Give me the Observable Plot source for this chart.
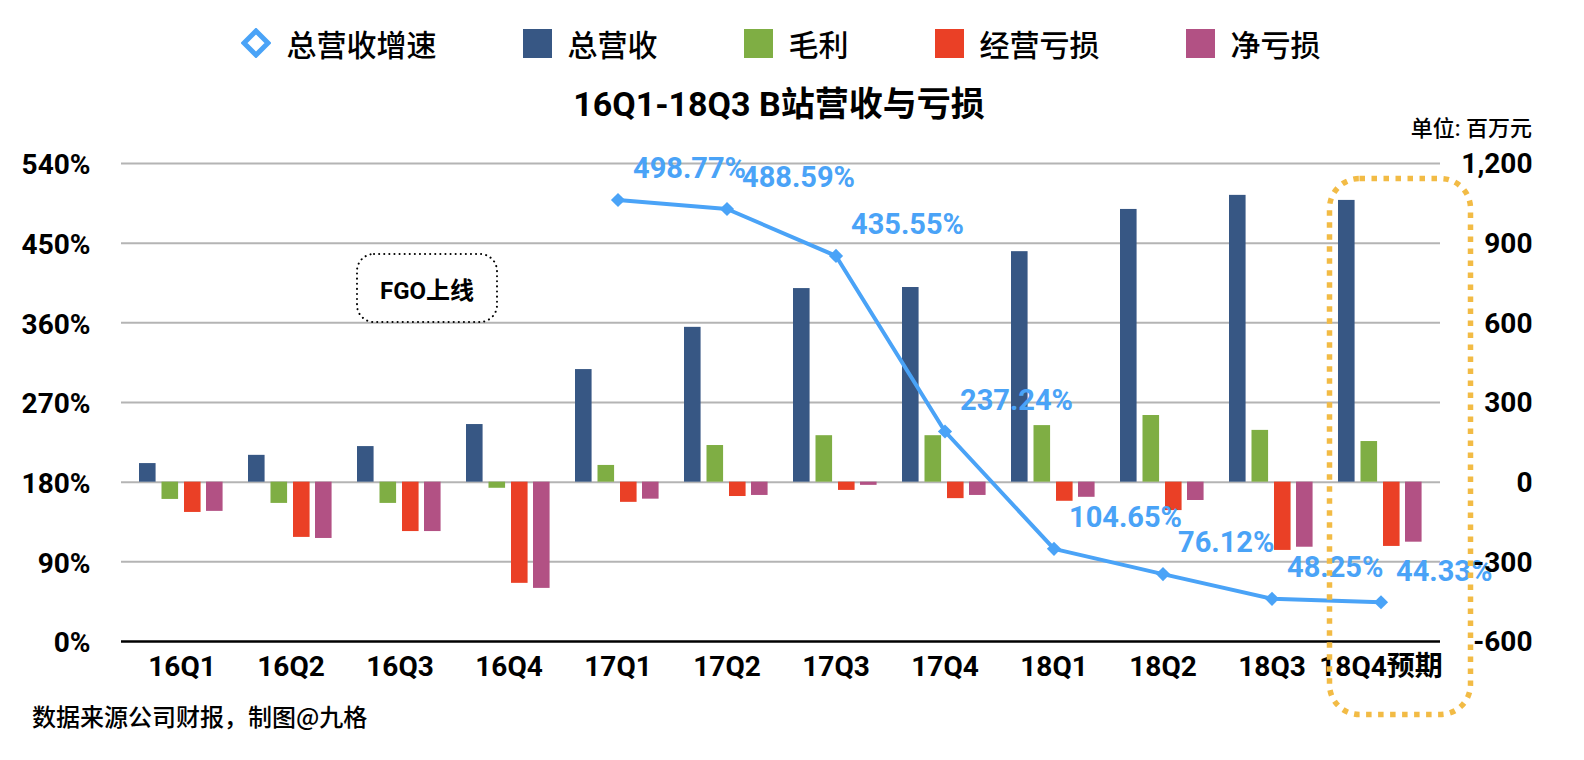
<!DOCTYPE html>
<html>
<head>
<meta charset="utf-8">
<script src="https://cdn.jsdelivr.net/npm/d3@7"></script>
<script src="https://cdn.jsdelivr.net/npm/@observablehq/plot@0.6"></script>
<style>
  html, body { margin: 0; padding: 0; background: #fff; }
  #wrap { position: relative; width: 1584px; height: 760px; overflow: hidden;
          font-family: Roboto, "Noto Sans CJK SC", sans-serif; color: #000; }
  #wrap > svg { position: absolute; left: 0; top: 0; }
  .legend { position: absolute; left: 0; top: 21px; width: 1561px; display: flex; justify-content: center;
            align-items: center; gap: 86px; font-family: "Noto Sans CJK SC", sans-serif; font-size: 30px; font-weight: 500; }
  .legend .item { display: flex; align-items: center; gap: 16px; }
  .legend .sw { width: 29px; height: 29px; display: inline-block; }
  .title { position: absolute; left: 0; width: 1558px; top: 80px; text-align: center; font-size: 34px; font-weight: 700;
           font-family: Roboto, "Noto Sans CJK SC", sans-serif; line-height: 44px; }
  .title .cjk { font-family: "Noto Sans CJK SC", sans-serif; }
  .unit { position: absolute; right: 52px; top: 113px; font-size: 22px; font-weight: 500;
          font-family: Roboto, "Noto Sans CJK SC", sans-serif; line-height: 32px; }
  .caption { position: absolute; left: 32px; top: 699px; font-size: 24px; font-weight: 500;
             font-family: "Noto Sans CJK SC", sans-serif; line-height: 34px; }
  .fgo { position: absolute; left: 356px; top: 253px; width: 142px; height: 70px; display: flex; align-items: center;
         justify-content: center; font-size: 24px; font-weight: 700;
         font-family: Roboto, "Noto Sans CJK SC", sans-serif; }
  .overlay { position: absolute; left: 0; top: 0; pointer-events: none; }
</style>
</head>
<body>
<div id="wrap"></div>
<script>
// ---- data ----
const quarters = ["16Q1","16Q2","16Q3","16Q4","17Q1","17Q2","17Q3","17Q4","18Q1","18Q2","18Q3","18Q4预期"];
const revenue       = [70, 101, 134, 217, 424, 583, 729, 733, 868, 1027, 1080, 1061];
const grossProfit   = [-65, -80, -80, -23, 63, 138, 175, 175, 213, 251, 195, 153];
const operatingLoss = [-114, -208, -186, -381, -76, -54, -31, -62, -72, -107, -257, -242];
const netLoss       = [-110, -212, -186, -400, -64, -50, -12, -50, -57, -69, -245, -226];
const revenueGrowth = [null, null, null, null, 498.77, 488.59, 435.55, 237.24, 104.65, 76.12, 48.25, 44.33];
const leftTicks  = [0, 90, 180, 270, 360, 450, 540];
const rightTicks = [-600, -300, 0, 300, 600, 900, 1200];
const seriesNames  = ["总营收增速", "总营收", "毛利", "经营亏损", "净亏损"];
const seriesColors = ["#4aa3f7", "#375784", "#7fae44", "#ea4026", "#b25184"];

// ---- layout ----
const W = 1584, H = 760, mL = 121, mR = 144, mT = 163, mB = 119;
const bw = (W - mL - mR) / quarters.length;
const barW = 17.5;
const barOffsets = [12, 34.5, 57, 79];

// left % axis mapped onto right value axis
const pMax = leftTicks[leftTicks.length - 1];
const yMin = rightTicks[0], yMax = rightTicks[rightTicks.length - 1];
const pctToY = p => yMin + p * (yMax - yMin) / pMax;

const rows = quarters.map((q, i) => ({
  q, rev: revenue[i], gp: grossProfit[i], op: operatingLoss[i], net: netLoss[i], g: revenueGrowth[i]
}));
const growthRows = rows.filter(d => d.g != null);

const barKeys = ["rev", "gp", "op", "net"];
const barMarks = barKeys.map((k, j) => Plot.barY(rows, {
  x: "q", y: k, fill: seriesColors[j + 1],
  insetLeft: barOffsets[j], insetRight: bw - barOffsets[j] - barW
}));

const numFont = "Roboto, 'Noto Sans CJK SC', sans-serif";
const fmt = v => v.toLocaleString("en-US");

const chart = Plot.plot({
  width: W, height: H,
  marginLeft: mL, marginRight: mR, marginTop: mT, marginBottom: mB,
  style: { fontFamily: numFont, background: "transparent", overflow: "visible" },
  x: { type: "band", domain: quarters, padding: 0, axis: null },
  y: { domain: [yMin, yMax], axis: null },
  marks: [
    Plot.ruleY(rightTicks.slice(1), { stroke: "#b4b4b4", strokeWidth: 2 }),
    ...barMarks,
    Plot.ruleY([yMin], { stroke: "#000", strokeWidth: 2.5 }),
    Plot.line(growthRows, { x: "q", y: d => pctToY(d.g), stroke: seriesColors[0], strokeWidth: 4 }),
    Plot.dot(growthRows, { x: "q", y: d => pctToY(d.g), symbol: "diamond2", r: 6.4, fill: seriesColors[0], stroke: "none" }),
    Plot.text(growthRows, { x: "q", y: d => pctToY(d.g), text: d => d.g.toFixed(2) + "%",
      textAnchor: "start", dx: 15, dy: -31, fill: seriesColors[0], fontSize: 29, fontWeight: "bold" }),
    Plot.text(leftTicks, { y: p => pctToY(p), text: p => p + "%", frameAnchor: "left",
      textAnchor: "end", dx: -31, dy: 2, fontSize: 28, fontWeight: "bold", fill: "#000" }),
    Plot.text(rightTicks, { y: d => d, text: d => fmt(d), frameAnchor: "right",
      textAnchor: "end", dx: 92, dy: 1, fontSize: 28, fontWeight: "bold", fill: "#000" }),
    Plot.text(quarters, { x: d => d, text: d => d, frameAnchor: "bottom", dy: 34,
      fontSize: 28, fontWeight: "bold", fill: "#000" })
  ]
});

const wrap = document.getElementById("wrap");
wrap.appendChild(chart);

// legend
const legend = document.createElement("div");
legend.className = "legend";
seriesNames.forEach((name, i) => {
  const item = document.createElement("div");
  item.className = "item";
  if (i === 0) {
    item.innerHTML = `<svg width="30" height="30" viewBox="0 0 30 30"><polygon points="15,3 27,15 15,27 3,15" fill="none" stroke="${seriesColors[0]}" stroke-width="5"/></svg>`;
  } else {
    item.innerHTML = `<span class="sw" style="background:${seriesColors[i]}"></span>`;
  }
  const t = document.createElement("span");
  t.textContent = name;
  item.appendChild(t);
  legend.appendChild(item);
});
wrap.appendChild(legend);

const title = document.createElement("div");
title.className = "title";
title.innerHTML = `16Q1-18Q3 B<span class="cjk">站营收与亏损</span>`;
wrap.appendChild(title);

const unit = document.createElement("div");
unit.className = "unit";
unit.textContent = "单位: 百万元";
wrap.appendChild(unit);

const caption = document.createElement("div");
caption.className = "caption";
caption.textContent = "数据来源公司财报，制图@九格";
wrap.appendChild(caption);

const fgo = document.createElement("div");
fgo.className = "fgo";
fgo.textContent = "FGO上线";
wrap.appendChild(fgo);

// annotation outlines
const ns = "http://www.w3.org/2000/svg";
const ov = document.createElementNS(ns, "svg");
ov.setAttribute("class", "overlay");
ov.setAttribute("width", W); ov.setAttribute("height", H);
ov.innerHTML = `
  <rect x="357" y="254" width="140" height="68" rx="17" ry="17" fill="none" stroke="#000" stroke-width="2" stroke-dasharray="0.1 5" stroke-linecap="round"/>
  <rect x="1329.5" y="178.5" width="141" height="536" rx="30" ry="30" fill="none" stroke="#f2bb45" stroke-width="5.5" stroke-dasharray="5.5 6.5"/>
`;
wrap.appendChild(ov);
</script>
</body>
</html>
